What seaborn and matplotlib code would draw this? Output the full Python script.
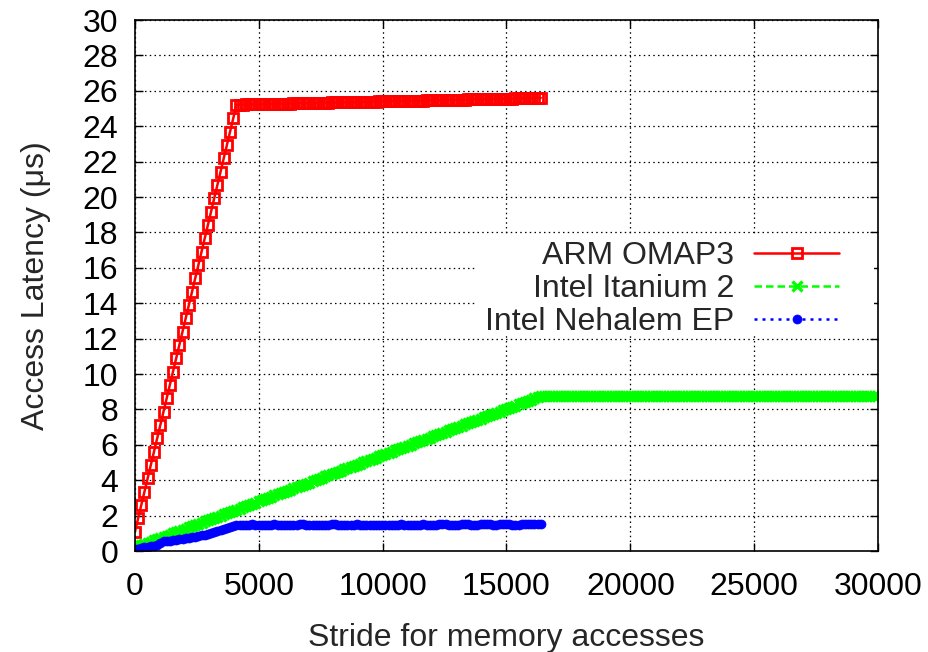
import pandas as pd
import matplotlib.pyplot as plt
import seaborn as sns
from matplotlib.patches import Rectangle

# stride grid (bytes), one sample every 128
stride_short = list(range(0, 16385, 128))
stride_long = list(range(0, 30000, 128))

arm_omap3 = [
    1.10, 1.85, 2.61, 3.36, 4.11, 4.87, 5.62, 6.37, 7.12, 7.88, 8.63, 9.38,
    10.14, 10.89, 11.64, 12.40, 13.15, 13.90, 14.65, 15.41, 16.16, 16.91, 17.67, 18.42,
    19.17, 19.93, 20.68, 21.43, 22.18, 22.94, 23.69, 24.44, 25.20,
    25.22, 25.22, 25.23, 25.23, 25.24, 25.24, 25.24, 25.25, 25.25, 25.26, 25.26, 25.26,
    25.27, 25.27, 25.28, 25.28, 25.28, 25.29, 25.29, 25.30, 25.30, 25.30, 25.31, 25.31,
    25.32, 25.32, 25.32, 25.33, 25.33, 25.34, 25.34, 25.34, 25.35, 25.35, 25.36, 25.36,
    25.36, 25.37, 25.37, 25.38, 25.38, 25.38, 25.39, 25.39, 25.40, 25.40, 25.40, 25.41,
    25.41, 25.42, 25.42, 25.42, 25.43, 25.43, 25.44, 25.44, 25.44, 25.45, 25.45, 25.46,
    25.46, 25.46, 25.47, 25.47, 25.48, 25.48, 25.48, 25.49, 25.49, 25.50, 25.50, 25.50,
    25.51, 25.51, 25.52, 25.52, 25.52, 25.53, 25.53, 25.54, 25.54, 25.54, 25.55, 25.55,
    25.56, 25.56, 25.56, 25.57, 25.57, 25.58, 25.58, 25.58, 25.59, 25.59, 25.60, 25.60,
]

itanium_2 = [
    0.20, 0.27, 0.33, 0.40, 0.47, 0.53, 0.60, 0.67, 0.73, 0.80, 0.87, 0.93,
    1.00, 1.07, 1.14, 1.20, 1.27, 1.34, 1.40, 1.47, 1.54, 1.60, 1.67, 1.74,
    1.80, 1.87, 1.94, 2.00, 2.07, 2.14, 2.20, 2.27, 2.34, 2.40, 2.47, 2.54,
    2.60, 2.67, 2.74, 2.81, 2.87, 2.94, 3.01, 3.07, 3.14, 3.21, 3.27, 3.34,
    3.41, 3.47, 3.54, 3.61, 3.67, 3.74, 3.81, 3.87, 3.94, 4.01, 4.07, 4.14,
    4.21, 4.27, 4.34, 4.41, 4.48, 4.54, 4.61, 4.68, 4.74, 4.81, 4.88, 4.94,
    5.01, 5.08, 5.14, 5.21, 5.28, 5.34, 5.41, 5.48, 5.54, 5.61, 5.68, 5.74,
    5.81, 5.88, 5.94, 6.01, 6.08, 6.15, 6.21, 6.28, 6.35, 6.41, 6.48, 6.55,
    6.61, 6.68, 6.75, 6.81, 6.88, 6.95, 7.01, 7.08, 7.15, 7.21, 7.28, 7.35,
    7.41, 7.48, 7.55, 7.61, 7.68, 7.75, 7.82, 7.88, 7.95, 8.02, 8.08, 8.15,
    8.22, 8.28, 8.35, 8.42, 8.48, 8.55, 8.62, 8.68, 8.75,
    8.75, 8.75, 8.75, 8.75, 8.75, 8.75, 8.75, 8.75, 8.75, 8.75, 8.75, 8.75,
    8.75, 8.75, 8.75, 8.75, 8.75, 8.75, 8.75, 8.75, 8.75, 8.75, 8.75, 8.75,
    8.75, 8.75, 8.75, 8.75, 8.75, 8.75, 8.75, 8.75, 8.75, 8.75, 8.75, 8.75,
    8.75, 8.75, 8.75, 8.75, 8.75, 8.75, 8.75, 8.75, 8.75, 8.75, 8.75, 8.75,
    8.75, 8.75, 8.75, 8.75, 8.75, 8.75, 8.75, 8.75, 8.75, 8.75, 8.75, 8.75,
    8.75, 8.75, 8.75, 8.75, 8.75, 8.75, 8.75, 8.75, 8.75, 8.75, 8.75, 8.75,
    8.75, 8.75, 8.75, 8.75, 8.75, 8.75, 8.75, 8.75, 8.75, 8.75, 8.75, 8.75,
    8.75, 8.75, 8.75, 8.75, 8.75, 8.75, 8.75, 8.75, 8.75, 8.75, 8.75, 8.75,
    8.75, 8.75, 8.75, 8.75, 8.75, 8.75, 8.75, 8.75, 8.75, 8.75,
]

nehalem_ep = [
    0.12, 0.14, 0.17, 0.20, 0.23, 0.27, 0.31, 0.36, 0.45, 0.55, 0.57, 0.59,
    0.61, 0.63, 0.66, 0.69, 0.72, 0.75, 0.78, 0.81, 0.85, 0.89, 0.93, 0.97,
    1.02, 1.07, 1.12, 1.17, 1.22, 1.28, 1.34, 1.40, 1.45,
    1.47, 1.48, 1.48, 1.49, 1.50, 1.49, 1.47, 1.46, 1.46, 1.47, 1.49, 1.50,
    1.49, 1.47, 1.46, 1.46, 1.46, 1.47, 1.48, 1.50, 1.50, 1.49, 1.47, 1.46,
    1.46, 1.46, 1.47, 1.48, 1.49, 1.50, 1.50, 1.49, 1.48, 1.47, 1.47, 1.48,
    1.49, 1.50, 1.49, 1.47, 1.46, 1.46, 1.47, 1.48, 1.48, 1.47, 1.46, 1.46,
    1.47, 1.48, 1.49, 1.50, 1.49, 1.48, 1.47, 1.47, 1.48, 1.49, 1.50, 1.49,
    1.48, 1.48, 1.49, 1.50, 1.51, 1.50, 1.49, 1.48, 1.48, 1.49, 1.50, 1.51,
    1.50, 1.49, 1.48, 1.49, 1.50, 1.51, 1.51, 1.50, 1.49, 1.49, 1.50, 1.51,
    1.51, 1.50, 1.49, 1.48, 1.49, 1.50, 1.51, 1.52, 1.51, 1.50, 1.50, 1.51,
]

x_ticks = [0, 5000, 10000, 15000, 20000, 25000, 30000]
y_ticks = list(range(0, 31, 2))

sns.set_style("ticks")
plt.rcParams['font.family'] = ['Liberation Sans', 'DejaVu Sans']
FS = 23

fig = plt.figure(figsize=(9.29, 6.52), dpi=100)
ax = fig.add_axes([0.1453, 0.1549, 0.7998, 0.8144])

df_arm = pd.DataFrame({'stride': stride_short, 'latency': arm_omap3})
df_ita = pd.DataFrame({'stride': stride_long, 'latency': itanium_2})
df_neh = pd.DataFrame({'stride': stride_short, 'latency': nehalem_ep})

sns.lineplot(data=df_arm, x='stride', y='latency', ax=ax, label='ARM OMAP3',
             color='#ff0000', linewidth=1.8, marker='s', markersize=7.8,
             markerfacecolor='none', markeredgecolor='#ff0000', markeredgewidth=2.0)
sns.lineplot(data=df_ita, x='stride', y='latency', ax=ax, label='Intel Itanium 2',
             color='#00ff00', linewidth=1.8, linestyle=(0, (3, 1.6)), marker='x',
             markersize=6.8, markeredgecolor='#00ff00', markeredgewidth=2.4)
sns.lineplot(data=df_neh, x='stride', y='latency', ax=ax, label='Intel Nehalem EP',
             color='#0000ff', linewidth=1.8, linestyle=(0, (1.2, 2)), marker='o',
             markersize=6.5, markerfacecolor='#0000ff', markeredgecolor='#0000ff',
             markeredgewidth=0.5)

ax.set_xlim(0, 30000)
ax.set_ylim(0, 30)
ax.set_xticks(x_ticks)
ax.set_yticks(y_ticks)
ax.set_axisbelow(True)
ax.grid(True, color='black', linestyle=(0, (1.2, 2.6)), linewidth=0.9)
ax.tick_params(direction='in', top=True, right=True, length=6, width=1,
               labelsize=FS, colors='black')
ax.tick_params(axis='x', pad=15)
ax.tick_params(axis='y', pad=12)
for side in ax.spines.values():
    side.set_linewidth(1.2)
    side.set_color('black')

# white key area that hides the grid behind the legend (gnuplot style)
ax.add_patch(Rectangle((0.458, 0.405), 0.537, 0.19, transform=ax.transAxes,
                       facecolor='white', edgecolor='none', zorder=1))

ax.set_xlabel('Stride for memory accesses', fontsize=FS, labelpad=15)
ax.set_ylabel('Access Latency (\u03bcs)', fontsize=FS, labelpad=23)

leg = ax.legend(loc='center right', bbox_to_anchor=(0.961, 0.493), borderaxespad=0,
                fontsize=FS, markerfirst=False, frameon=False,
                handlelength=2.66, handletextpad=0.63, labelspacing=0.1,
                borderpad=0.3)
for t in leg.get_texts():
    t.set_ha('right')
leg._legend_box.align = 'right'

fig.savefig('out.png', dpi=100)
